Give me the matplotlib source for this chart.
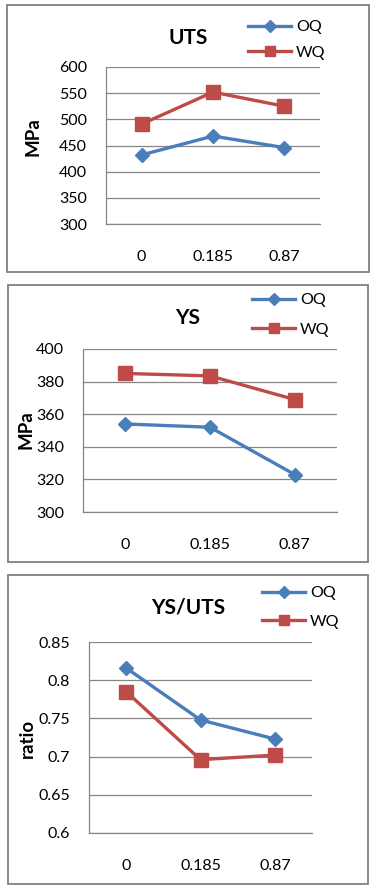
import matplotlib
matplotlib.use("Agg")
import matplotlib.pyplot as plt
from matplotlib.patches import Rectangle

plt.rcParams['font.family'] = ['Lato', 'DejaVu Sans']

categories = ["0", "0.185", "0.87"]
uts_oq = [432, 468, 446]
uts_wq = [491, 552, 525]
ys_oq = [354, 352, 323]
ys_wq = [385, 383.5, 369]
ratio_oq = [0.816, 0.748, 0.723]
ratio_wq = [0.785, 0.696, 0.702]

W, H = 375, 890
fig = plt.figure(figsize=(W / 100, H / 100), dpi=100)
fig.patch.set_facecolor("white")

BLUE = "#4A7EBB"
RED = "#BE4B48"
GRID = "#868686"


def px_axes(left, top, right, bottom):
    return fig.add_axes([left / W, 1 - bottom / H, (right - left) / W, (bottom - top) / H])


def border(left, top, right, bottom):
    fig.patches.append(Rectangle((left / W, 1 - bottom / H), (right - left) / W, (bottom - top) / H,
                                 transform=fig.transFigure, fill=False, edgecolor="#808080",
                                 linewidth=1.3))


def panel(box, axbox, oq, wq, ylim, yticks, yfmt, title, title_xy, ylabel, ylabel_xy, leg_xy,
          spacing):
    border(*box)
    ax = px_axes(*axbox)
    x = range(len(categories))
    l1, = ax.plot(x, oq, color=BLUE, lw=2.4, marker="D", ms=7.5, label="OQ", zorder=3)
    l2, = ax.plot(x, wq, color=RED, lw=2.4, marker="s", ms=10, label="WQ", zorder=3)
    ax.set_xlim(-0.5, len(categories) - 0.5)
    ax.set_ylim(*ylim)
    ax.set_yticks(yticks)
    ax.set_yticklabels([yfmt(v) for v in yticks], fontsize=11.5)
    ax.set_xticks(list(x))
    ax.set_xticklabels(categories, fontsize=11.5)
    ax.tick_params(length=0)
    ax.tick_params(axis="y", pad=13.5)
    ax.tick_params(axis="x", pad=19)
    for s in ("top", "right"):
        ax.spines[s].set_visible(False)
    for s in ("left", "bottom"):
        ax.spines[s].set_color(GRID)
        ax.spines[s].set_linewidth(0.9)
    ax.grid(axis="y", color=GRID, lw=0.9)
    ax.set_axisbelow(True)
    ax.set_facecolor("white")
    fig.text(title_xy[0] / W, 1 - title_xy[1] / H, title, ha="center", va="center",
             fontsize=15, fontweight="bold")
    fig.text(ylabel_xy[0] / W, 1 - ylabel_xy[1] / H, ylabel, ha="center", va="center",
             rotation=90, fontsize=13.5, fontweight="bold")
    fig.legend(handles=[l1, l2], loc="upper left",
               bbox_to_anchor=(leg_xy[0] / W, 1 - leg_xy[1] / H),
               frameon=False, fontsize=11.5, handlelength=2.7, labelspacing=spacing,
               handletextpad=0.3, markerscale=0.75, borderpad=0, borderaxespad=0)
    return ax


panel((7, 5, 369, 272), (106, 67, 320, 224), uts_oq, uts_wq, (300, 600),
      list(range(300, 601, 50)), lambda v: f"{v:g}", "UTS", (188, 38), "MPa", (33, 137),
      (248, 20), 0.7)
panel((8, 285, 368, 562), (83, 349, 337, 512), ys_oq, ys_wq, (300, 400),
      list(range(300, 401, 20)), lambda v: f"{v:g}", "YS", (188, 318), "MPa", (26, 430),
      (252, 293), 0.95)
panel((8, 575, 368, 884), (89, 642, 312, 833), ratio_oq, ratio_wq, (0.6, 0.85),
      [0.6, 0.65, 0.7, 0.75, 0.8, 0.85], lambda v: f"{v:g}", "YS/UTS", (188, 608), "ratio",
      (27, 738), (262, 586), 0.9)

fig.savefig("out.png", dpi=100, facecolor="white")
